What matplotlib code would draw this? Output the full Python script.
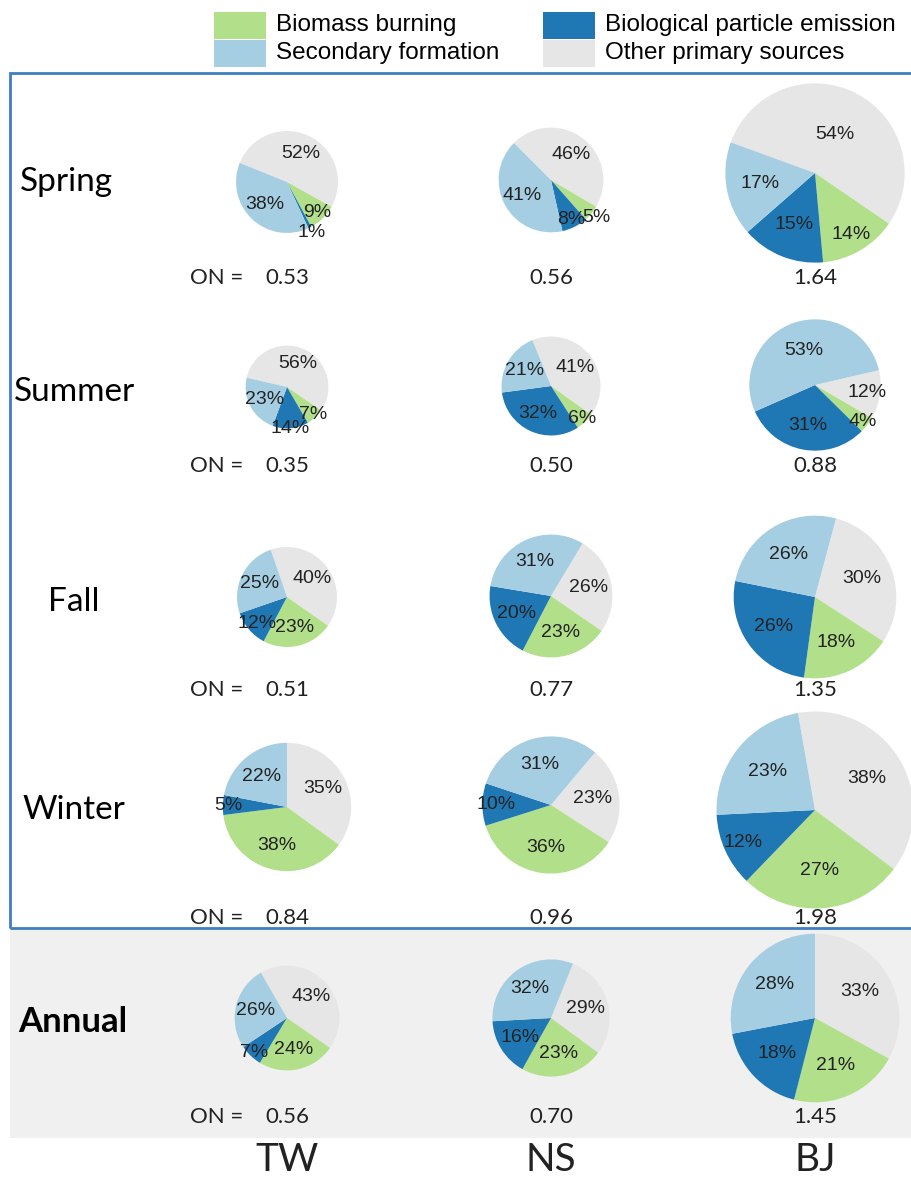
import numpy as np
import matplotlib
matplotlib.use('Agg')
import matplotlib.pyplot as plt
from matplotlib.patches import Rectangle

# Dados
sites = ['TW', 'NS', 'BJ']
seasons = ['Spring', 'Summer', 'Fall', 'Winter', 'Annual']
sources = ['Other primary sources', 'Biomass burning',
           'Biological particle emission', 'Secondary formation']

# percentages per season (rows) and site (columns)
other = [[52, 46, 54], [56, 41, 12], [40, 26, 30], [35, 23, 38], [43, 29, 33]]
biomass = [[9, 5, 14], [7, 6, 4], [23, 23, 18], [38, 36, 27], [24, 23, 21]]
biological = [[1, 8, 15], [14, 32, 31], [12, 20, 26], [5, 10, 12], [7, 16, 18]]
secondary = [[38, 41, 17], [23, 21, 53], [25, 31, 26], [22, 31, 23], [26, 32, 28]]
on_values = [[0.53, 0.56, 1.64], [0.35, 0.50, 0.88], [0.51, 0.77, 1.35],
             [0.84, 0.96, 1.98], [0.56, 0.70, 1.45]]

colors = {'Other primary sources': '#e6e6e6', 'Biomass burning': '#b2df8a',
          'Biological particle emission': '#1f78b4', 'Secondary formation': '#a6cee3'}

# layout (pixels, image coords: y down)
W, H = 912, 1178
col_x = [287, 551, 815]
pie_y = [[182, 180, 173], [387, 386, 385], [597, 596, 597],
         [807, 805, 810], [1018, 1018, 1018]]
start_compass = [[292, 315, 290], [283, 338, 77], [341, 31, 15],
                 [0, 40, 350], [330, 22, 0]]
on_y = [278, 466, 690, 918, 1117]
label_pos = [(20, 182), (14, 392), (48, 602), (22, 810), (18, 1022)]
scale = 70  # radius px = scale * sqrt(ON)
# label distance overrides (row, col, slice index)
dist_fix = {(0, 0, 1): 0.84, (0, 0, 2): 1.1, (1, 0, 2): 1.0, (0, 1, 1): 1.12,
            (0, 1, 2): 0.84, (0, 2, 0): 0.48, (1, 2, 3): 0.55}

fig = plt.figure(figsize=(W / 100, H / 100), dpi=100)
ax = fig.add_axes([0, 0, 1, 1])

def Y(y):
    return H - y

# fundo do painel anual e moldura azul
ax.add_patch(Rectangle((10, Y(1138)), W - 10, 1138 - 928, facecolor='#f0f0f0',
                       edgecolor='none', zorder=0))
ax.add_patch(Rectangle((10, Y(928)), W - 10 + 5, 928 - 73, facecolor='none',
                       edgecolor='#3f7fbf', linewidth=2, zorder=5))

for i in range(len(seasons)):
    for j in range(len(sites)):
        vals = [other[i][j], biomass[i][j], biological[i][j], secondary[i][j]]
        r = scale * np.sqrt(on_values[i][j])
        cx, cy = col_x[j], Y(pie_y[i][j])
        wedges, _ = ax.pie(vals, colors=[colors[s] for s in sources],
                           center=(cx, cy), radius=r, counterclock=False,
                           startangle=90 - start_compass[i][j],
                           wedgeprops=dict(linewidth=0))
        for k, (w, v) in enumerate(zip(wedges, vals)):
            mid = np.deg2rad((w.theta1 + w.theta2) / 2)
            d = 0.62 if v >= 15 else (0.8 if v >= 10 else 0.92)
            d = dist_fix.get((i, j, k), d)
            ax.text(cx + d * r * np.cos(mid), cy + d * r * np.sin(mid), f'{v}%',
                    ha='center', va='center', fontsize=14, color='#222222',
                    family='Liberation Sans', zorder=6)
        ax.text(col_x[j], Y(on_y[i]), f'{on_values[i][j]:.2f}', ha='center',
                va='center', fontsize=16, color='#222222', family='Lato', zorder=6)
    ax.text(190, Y(on_y[i]), 'ON =', ha='left', va='center', fontsize=16,
            color='#222222', family='Lato', zorder=6)
    lx, ly = label_pos[i]
    bold = seasons[i] == 'Annual'
    ax.text(lx, Y(ly), seasons[i], ha='left', va='center',
            fontsize=25 if bold else 24, color='black', family='Lato',
            fontweight='bold' if bold else 'normal', zorder=6)

for j, s in enumerate(sites):
    ax.text(col_x[j], Y(1160), s, ha='center', va='center', fontsize=28,
            color='#222222', family='Lato')

# legenda
leg = [('Biomass burning', 214, 12), ('Secondary formation', 214, 40),
       ('Biological particle emission', 543, 12), ('Other primary sources', 543, 40)]
for name, x0, y0 in leg:
    ax.add_patch(Rectangle((x0, Y(y0 + 27)), 52, 27, facecolor=colors[name],
                           edgecolor='none'))
    ax.text(x0 + 62, Y(y0 + 13), name, ha='left', va='center', fontsize=17.5,
            color='black', family='Liberation Sans')

ax.set_xlim(0, W)
ax.set_ylim(0, H)
ax.set_aspect('auto')
ax.axis('off')

plt.savefig('out.png', dpi=100)
